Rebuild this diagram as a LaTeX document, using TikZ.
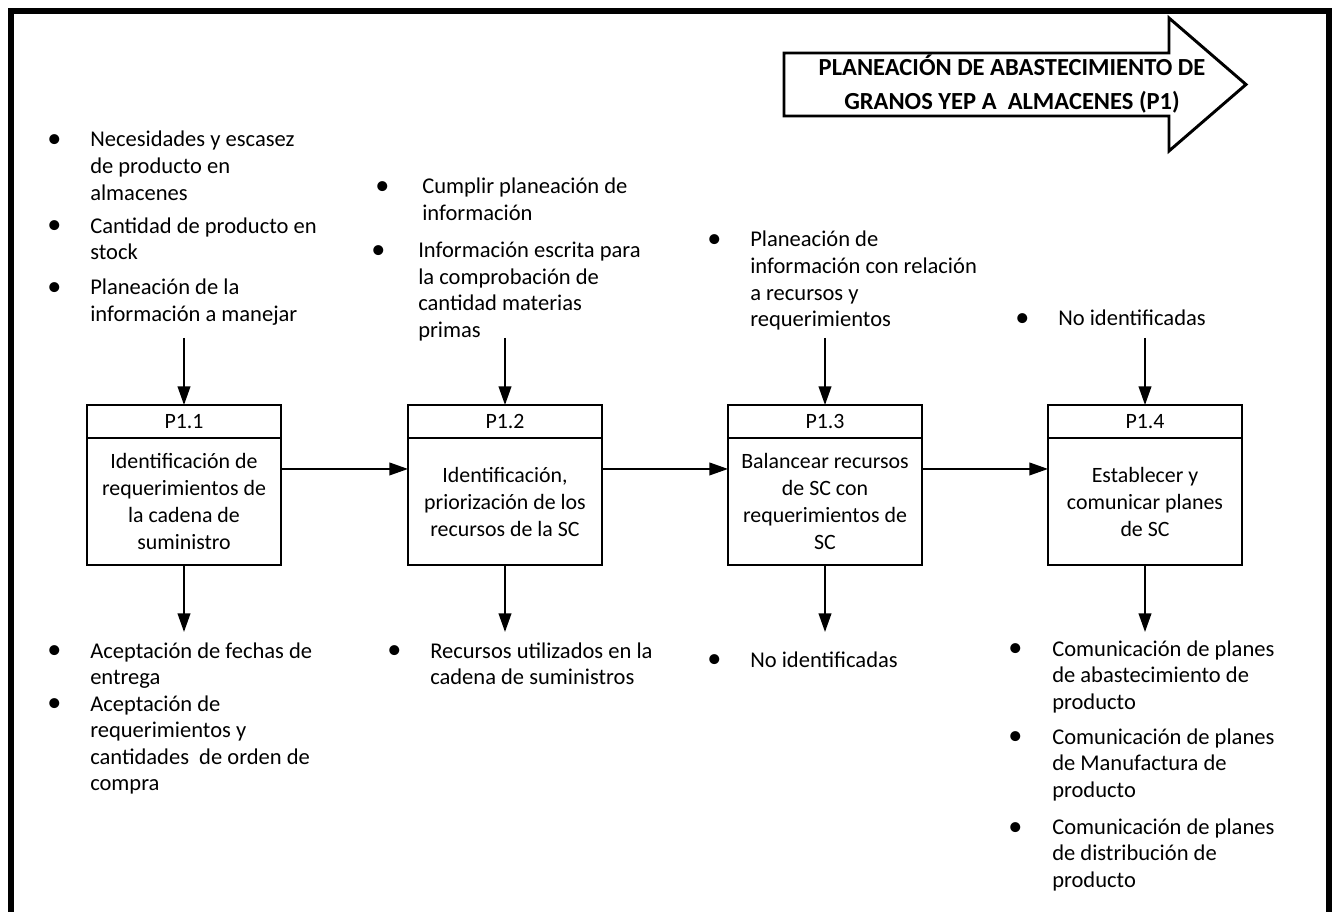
\documentclass[tikz,border=0pt]{standalone}
\usepackage{fontspec}
\setmainfont{Carlito}
\usetikzlibrary{arrows.meta}

% zero-width bullet centred on the current point
\newcommand\bul{\makebox[0pt][c]{\raisebox{-0.6pt}{\scalebox{1.25}{•}}}}
\newcommand\bodyfont{\fontsize{16.9}{19.9}\selectfont}
\newcommand\boxfont{\fontsize{16.4}{20.25}\selectfont}

\tikzset{
  hdr/.style={draw, line width=1.5pt, minimum width=194*0.75pt,
    minimum height=33*0.75pt, inner sep=0pt, outer sep=0pt, font=\boxfont},
  procbody/.style={draw, line width=1.5pt, minimum width=194*0.75pt,
    minimum height=127*0.75pt, inner sep=0pt, outer sep=0pt,
    align=center, font=\boxfont},
  conn/.style={line width=1.4pt, -{Triangle[length=14pt,width=9.5pt]}},
  lst/.style={anchor=base west, inner sep=0pt, font=\bodyfont},
  frame/.style={line width=4.5pt},
  bigarrow/.style={line width=2.2pt, line join=miter, fill=white},
}

\begin{document}
\begin{tikzpicture}[x=0.75pt, y=-0.75pt]
\clip (0,0) rectangle (1334,912);
\fill[white] (0,0) rectangle (1334,912);

% outer frame, open at the bottom edge
\draw[frame] (11,11) rectangle (1329,960);

% title arrow
\draw[bigarrow] (784,53) -- (1169,53) -- (1169,18) -- (1246,84.5)
  -- (1169,151) -- (1169,116) -- (784,116) -- cycle;
\node[font=\fontsize{18.4}{25.5}\selectfont\bfseries, align=center] (ttl)
  at (1012,84) {PLANEACIÓN DE ABASTECIMIENTO DE\\GRANOS YEP A~ ALMACENES (P1)};

% process boxes: header + body
\node[hdr] (h1) at (184,421.5) {P1.1};
\node[procbody] (b1) at (184,501.5) {Identificación de\\requerimientos de\\la cadena de\\suministro};
\node[hdr] (h2) at (505,421.5) {P1.2};
\node[procbody] (b2) at (505,501.5) {Identificación,\\priorización de los\\recursos de la SC};
\node[hdr] (h3) at (825,421.5) {P1.3};
\node[procbody] (b3) at (825,501.5) {Balancear recursos\\de SC con\\requerimientos de\\SC};
\node[hdr] (h4) at (1145,421.5) {P1.4};
\node[procbody] (b4) at (1145,501.5) {Establecer y\\comunicar planes\\de SC};

% flow between the boxes
\draw[conn] ([yshift=24.4pt]b1.east) -- ([yshift=24.4pt]b2.west);
\draw[conn] ([yshift=24.4pt]b2.east) -- ([yshift=24.4pt]b3.west);
\draw[conn] ([yshift=24.4pt]b3.east) -- ([yshift=24.4pt]b4.west);

% inputs
\coordinate (i1) at (184,338);
\coordinate (i2) at (505,338);
\coordinate (i3) at (825,338);
\coordinate (i4) at (1145,338);
\draw[conn] (i1) -- (h1.north);
\draw[conn] (i2) -- (h2.north);
\draw[conn] (i3) -- (h3.north);
\draw[conn] (i4) -- (h4.north);

% outputs
\coordinate (o1) at (184,632);
\coordinate (o2) at (505,632);
\coordinate (o3) at (825,632);
\coordinate (o4) at (1145,632);
\draw[conn] (b1.south) -- (o1);
\draw[conn] (b2.south) -- (o2);
\draw[conn] (b3.south) -- (o3);
\draw[conn] (b4.south) -- (o4);

% input lists
\node[lst] (in1) at (54,147) {\begin{tabular}[t]{@{}l@{\hspace{27pt}}l@{}}
\bul & Necesidades y escasez\\
     & de producto en\\
     & almacenes\\[4.9pt]
\bul & Cantidad de producto en\\
     & stock\\[6.4pt]
\bul & Planeación de la\\
     & información a manejar
\end{tabular}};

\node[lst] (in2) at (378,194) {\begin{tabular}[t]{@{}l@{\hspace{27pt}}l@{}}
\hspace{3pt}\bul & \hspace{3pt}Cumplir planeación de\\
     & \hspace{3pt}información\\[7.9pt]
\bul & Información escrita para\\
     & la comprobación de\\
     & cantidad materias\\
     & primas
\end{tabular}};

\node[lst] (in3) at (714,247) {\begin{tabular}[t]{@{}l@{\hspace{27pt}}l@{}}
\bul & Planeación de\\
     & información con relación\\
     & a recursos y\\
     & requerimientos
\end{tabular}};

\node[lst] (in4) at (1022,326) {\begin{tabular}[t]{@{}l@{\hspace{27pt}}l@{}}
\bul & No identificadas
\end{tabular}};

% output lists
\node[lst] (out1) at (54,658) {\begin{tabular}[t]{@{}l@{\hspace{27pt}}l@{}}
\bul & Aceptación de fechas de\\
     & entrega\\
\bul & Aceptación de\\
     & requerimientos y\\
     & cantidades~ de orden de\\
     & compra
\end{tabular}};

\node[lst] (out2) at (394,658) {\begin{tabular}[t]{@{}l@{\hspace{27pt}}l@{}}
\bul & Recursos utilizados en la\\
     & cadena de suministros
\end{tabular}};

\node[lst] (out3) at (714,667) {\begin{tabular}[t]{@{}l@{\hspace{27pt}}l@{}}
\bul & No identificadas
\end{tabular}};

\node[lst] (out4) at (1015,656) {\begin{tabular}[t]{@{}l@{\hspace{27.75pt}}l@{}}
\bul & Comunicación de planes\\
     & de abastecimiento de\\
     & producto\\[6.4pt]
\bul & Comunicación de planes\\
     & de Manufactura de\\
     & producto\\[7.9pt]
\bul & Comunicación de planes\\
     & de distribución de\\
     & producto
\end{tabular}};
\end{tikzpicture}
\end{document}
